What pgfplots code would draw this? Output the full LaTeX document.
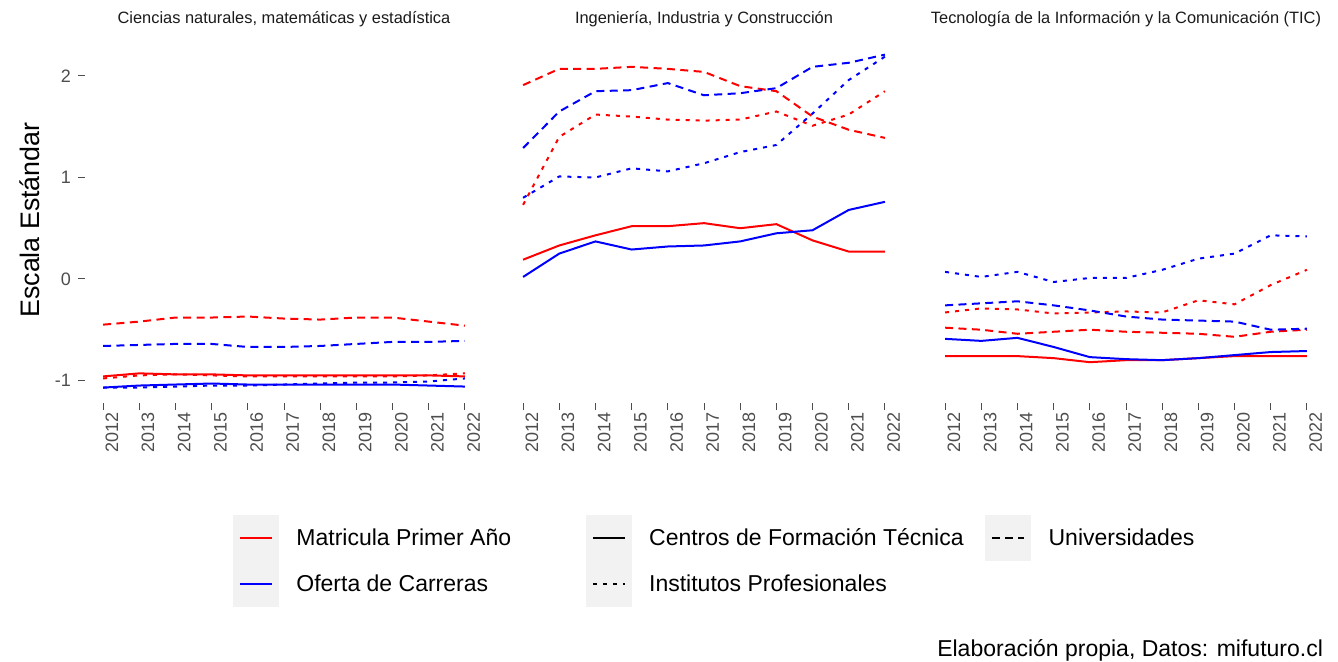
\documentclass[border=0pt]{standalone}
\usepackage{fontspec}
\setmainfont{Liberation Sans}
\usepackage{pgfplots}
\usepackage{pgfplotstable}
\pgfplotsset{compat=1.18}
\definecolor{serRed}{HTML}{FF0000}
\definecolor{serBlue}{HTML}{0000FF}
\definecolor{tickgray}{HTML}{4D4D4D}
\definecolor{stripgray}{HTML}{1A1A1A}
\definecolor{keygray}{HTML}{F2F2F2}

% cft = Centros de Formacion Tecnica, ip = Institutos Profesionales, uni = Universidades
% M = Matricula Primer Anio, O = Oferta de Carreras
\pgfplotstableread{
year cftM ipM uniM cftO ipO uniO
2012 -0.96 -0.98 -0.45 -1.07 -1.07 -0.66
2013 -0.93 -0.95 -0.42 -1.05 -1.07 -0.65
2014 -0.94 -0.94 -0.38 -1.04 -1.06 -0.64
2015 -0.94 -0.95 -0.38 -1.03 -1.05 -0.64
2016 -0.95 -0.96 -0.37 -1.04 -1.05 -0.67
2017 -0.95 -0.96 -0.39 -1.04 -1.04 -0.67
2018 -0.95 -0.96 -0.40 -1.04 -1.03 -0.66
2019 -0.95 -0.96 -0.38 -1.04 -1.02 -0.64
2020 -0.95 -0.96 -0.38 -1.04 -1.02 -0.62
2021 -0.95 -0.95 -0.42 -1.05 -1.01 -0.62
2022 -0.96 -0.93 -0.46 -1.06 -0.98 -0.61
}\tabCiencias

\pgfplotstableread{
year cftM ipM uniM cftO ipO uniO
2012 0.19 0.73 1.91 0.02 0.80 1.29
2013 0.33 1.40 2.07 0.25 1.01 1.65
2014 0.43 1.62 2.07 0.37 1.00 1.85
2015 0.52 1.60 2.09 0.29 1.09 1.86
2016 0.52 1.57 2.07 0.32 1.06 1.93
2017 0.55 1.56 2.04 0.33 1.14 1.81
2018 0.50 1.57 1.90 0.37 1.25 1.83
2019 0.54 1.65 1.85 0.45 1.32 1.88
2020 0.38 1.51 1.60 0.48 1.63 2.09
2021 0.27 1.62 1.47 0.68 1.96 2.13
2022 0.27 1.85 1.39 0.76 2.19 2.21
}\tabIngenieria

\pgfplotstableread{
year cftM ipM uniM cftO ipO uniO
2012 -0.76 -0.33 -0.48 -0.59 0.07 -0.26
2013 -0.76 -0.29 -0.50 -0.61 0.02 -0.24
2014 -0.76 -0.30 -0.54 -0.58 0.07 -0.22
2015 -0.78 -0.34 -0.52 -0.67 -0.03 -0.26
2016 -0.82 -0.33 -0.50 -0.77 0.01 -0.31
2017 -0.80 -0.32 -0.52 -0.79 0.01 -0.37
2018 -0.80 -0.33 -0.53 -0.80 0.09 -0.40
2019 -0.78 -0.21 -0.54 -0.78 0.20 -0.41
2020 -0.76 -0.25 -0.57 -0.75 0.25 -0.42
2021 -0.76 -0.06 -0.52 -0.72 0.43 -0.50
2022 -0.76 0.09 -0.50 -0.71 0.42 -0.49
}\tabTIC

\pgfplotsset{
  cft/.style={solid},
  ip/.style={dash pattern=on 2pt off 3pt},
  uni/.style={dash pattern=on 4pt off 2.7pt},
  facet/.style={
    scale only axis, width=199pt, height=183pt,
    xmin=2011.5, xmax=2022.5, ymin=-1.222, ymax=2.384,
    axis line style={draw=none},
    tick pos=left, tick align=outside,
    major tick length=3.5pt,
    tick style={tickgray, line width=0.5pt},
    xtick={2012,2013,2014,2015,2016,2017,2018,2019,2020,2021,2022},
    xticklabels={2012,2013,2014,2015,2016,2017,2018,2019,2020,2021,2022},
    x tick label style={rotate=90, anchor=north east, inner sep=1pt,
      font=\fontsize{9}{9}\selectfont, text=tickgray},
    y tick label style={font=\fontsize{9}{9}\selectfont, text=tickgray},
    title style={at={(0.5,1)}, anchor=center, yshift=3pt,
      font=\fontsize{8.2}{9}\selectfont, text=stripgray},
    every axis plot/.append style={line width=1pt},
  },
}

\begin{document}
\begin{tikzpicture}
\useasboundingbox (0,0) rectangle (669pt,-331pt);

\begin{axis}[facet, at={(42.5pt,-18.5pt)}, anchor=north west,
  title={Ciencias naturales, matemáticas y estadística},
  ytick={-1,0,1,2}, yticklabels={-1,0,1,2},
  ylabel={Escala Estándar},
  ylabel style={at={(axis description cs:-0.1382,0.5)}, anchor=center,
    font=\fontsize{13.4}{14}\selectfont},
  legend cell align=left,
  legend columns=3,
  legend image code/.code={
    \fill[keygray, draw=none, solid] (0pt,-11.5pt) rectangle (23pt,11.5pt);
    \draw[#1, line width=1pt] (3.5pt,0pt) -- (19.5pt,0pt);
  },
  legend style={at={(0.3719,-0.306)}, anchor=north west, draw=none, fill=none,
    inner sep=0pt, row sep=0pt,
    nodes={inner sep=0pt},
    font=\fontsize{11.5}{12}\selectfont,
    /tikz/column 1/.style={column sep=8.5pt},
    /tikz/column 2/.style={column sep=37.5pt},
    /tikz/column 3/.style={column sep=8.5pt},
    /tikz/column 4/.style={column sep=10.5pt},
    /tikz/column 5/.style={column sep=9pt}},
]
\addlegendimage{serRed, solid}
\addlegendimage{black, solid}
\addlegendimage{black, uni}
\addlegendimage{serBlue, solid}
\addlegendimage{black, ip}
\addplot[serRed, cft, forget plot] table[x=year, y=cftM] {\tabCiencias};
\addplot[serRed, ip, forget plot] table[x=year, y=ipM] {\tabCiencias};
\addplot[serRed, uni, forget plot] table[x=year, y=uniM] {\tabCiencias};
\addplot[serBlue, cft, forget plot] table[x=year, y=cftO] {\tabCiencias};
\addplot[serBlue, ip, forget plot] table[x=year, y=ipO] {\tabCiencias};
\addplot[serBlue, uni, forget plot] table[x=year, y=uniO] {\tabCiencias};
\legend{Matricula Primer Año, Centros de Formación Técnica, Universidades,
  Oferta de Carreras, Institutos Profesionales}
\end{axis}

\begin{axis}[facet, at={(252.5pt,-18.5pt)}, anchor=north west,
  title={Ingeniería, Industria y Construcción}, ytick=\empty]
\addplot[serRed, cft] table[x=year, y=cftM] {\tabIngenieria};
\addplot[serRed, ip] table[x=year, y=ipM] {\tabIngenieria};
\addplot[serRed, uni] table[x=year, y=uniM] {\tabIngenieria};
\addplot[serBlue, cft] table[x=year, y=cftO] {\tabIngenieria};
\addplot[serBlue, ip] table[x=year, y=ipO] {\tabIngenieria};
\addplot[serBlue, uni] table[x=year, y=uniO] {\tabIngenieria};
\end{axis}

\begin{axis}[facet, at={(463.5pt,-18.5pt)}, anchor=north west,
  title={Tecnología de la Información y la Comunicación (TIC)}, ytick=\empty]
\addplot[serRed, cft] table[x=year, y=cftM] {\tabTIC};
\addplot[serRed, ip] table[x=year, y=ipM] {\tabTIC};
\addplot[serRed, uni] table[x=year, y=uniM] {\tabTIC};
\addplot[serBlue, cft] table[x=year, y=cftO] {\tabTIC};
\addplot[serBlue, ip] table[x=year, y=ipO] {\tabTIC};
\addplot[serBlue, uni] table[x=year, y=uniO] {\tabTIC};
\end{axis}

\node[anchor=east, font=\fontsize{11.5}{12}\selectfont] at (665pt,-325pt)
  {Elaboración propia, Datos: mifuturo.cl};
\end{tikzpicture}
\end{document}
